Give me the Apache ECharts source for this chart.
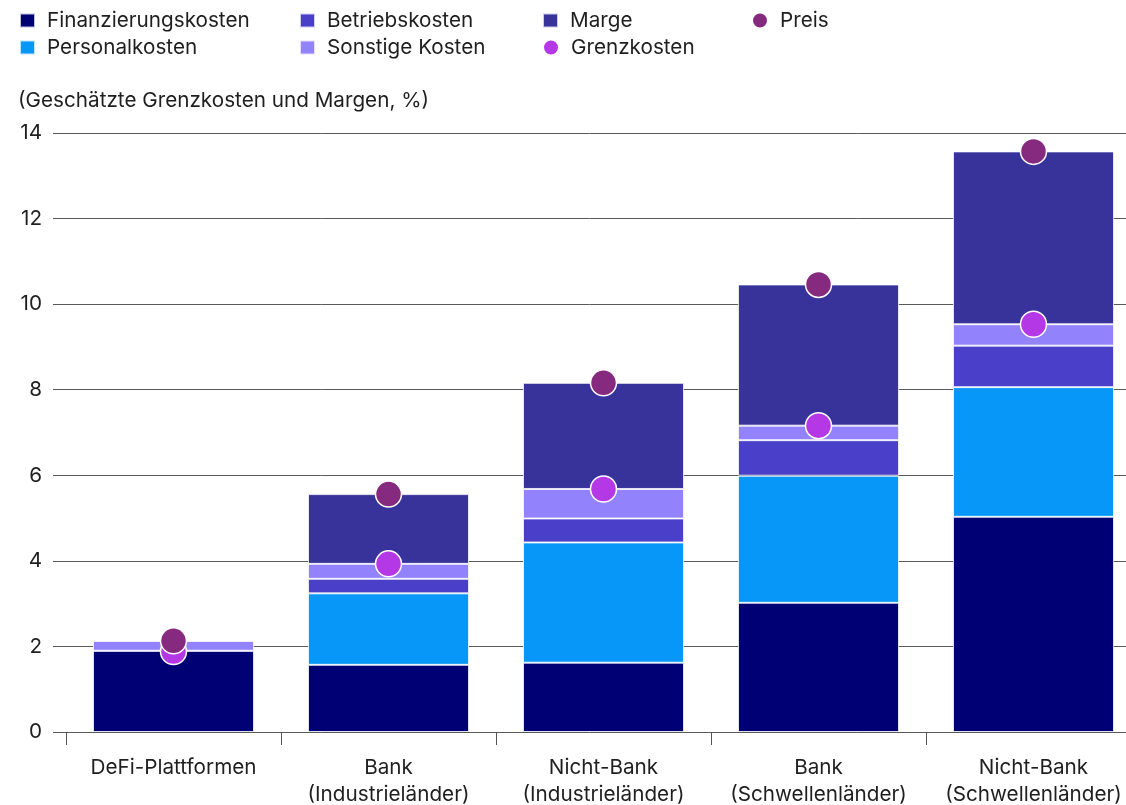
<!DOCTYPE html>
<html>
<head>
<meta charset="utf-8">
<script src="https://cdn.jsdelivr.net/npm/echarts@6/dist/echarts.min.js"></script>
<style>
  html, body { margin: 0; padding: 0; background: #fff; }
  #chart { width: 1126px; height: 805px; }
</style>
</head>
<body>
<div id="chart"></div>
<script>
// Categories (line break for the two-line axis labels)
const categories = [
  'DeFi-Plattformen',
  'Bank\n(Industrieländer)',
  'Nicht-Bank\n(Industrieländer)',
  'Bank\n(Schwellenländer)',
  'Nicht-Bank\n(Schwellenländer)'
];

// Stacked cost components and margin (%)
const finanzierungskosten = [1.90, 1.57, 1.62, 3.02, 5.03];
const personalkosten      = [0.00, 1.67, 2.81, 2.97, 3.03];
const betriebskosten      = [0.00, 0.34, 0.56, 0.83, 0.97];
const sonstigeKosten      = [0.23, 0.35, 0.69, 0.34, 0.50];
const marge               = [0.00, 1.63, 2.48, 3.30, 4.04];

// Point markers (%)
const grenzkosten = [1.88, 3.93, 5.68, 7.16, 9.53];
const preis       = [2.13, 5.56, 8.16, 10.46, 13.57];

// Y axis ticks
const yTicks = [0, 2, 4, 6, 8, 10, 12, 14];

const FONT = 'Inter, "Noto Sans", sans-serif';
const FONT_SIZE = 20.7;
const TEXT = '#1f1f1f';

const colors = {
  fin: '#000075',
  pers: '#0797f8',
  betr: '#4a3fc8',
  sonst: '#9282fc',
  marge: '#38339b',
  grenz: '#b538e7',
  preis: '#862a80'
};

function barSeries(name, data, color) {
  return {
    name, type: 'bar', stack: 'total', data,
    xAxisIndex: 1, yAxisIndex: 1,
    barWidth: 161,
    itemStyle: { color, borderColor: 'rgba(255,255,255,0.75)', borderWidth: 1 },
    emphasis: { disabled: true }
  };
}

function dotSeries(name, data, color, z) {
  return {
    name, type: 'scatter', data,
    xAxisIndex: 1, yAxisIndex: 1,
    symbol: 'circle', symbolSize: 26, z,
    itemStyle: { color, borderColor: '#ffffff', borderWidth: 1.5, opacity: 1 },
    emphasis: { disabled: true }
  };
}

function legendItem(name, icon, left, top) {
  return {
    data: [{ name, icon }],
    left, top, padding: 0,
    itemWidth: icon === 'circle' ? 16 : 15,
    itemHeight: icon === 'circle' ? 16 : 14,
    selectedMode: false,
    textStyle: { fontFamily: FONT, fontSize: FONT_SIZE, color: TEXT, lineHeight: 20, padding: [0, 0, 0, 7] }
  };
}

const chart = echarts.init(document.getElementById('chart'), null, { renderer: 'canvas' });

chart.setOption({
  animation: false,
  title: {
    text: '(Geschätzte Grenzkosten und Margen, %)',
    left: 13, top: 84,
    textStyle: { fontFamily: FONT, fontSize: FONT_SIZE, fontWeight: 'normal', color: TEXT, lineHeight: 24 }
  },
  legend: [
    legendItem('Finanzierungskosten', 'rect', 19, 10),
    legendItem('Personalkosten', 'rect', 19, 37),
    legendItem('Betriebskosten', 'rect', 299, 10),
    legendItem('Sonstige Kosten', 'rect', 299, 37),
    legendItem('Marge', 'rect', 542, 10),
    legendItem('Grenzkosten', 'circle', 542, 37),
    legendItem('Preis', 'circle', 751, 10)
  ],
  grid: [
    // background grid: gridlines and value labels
    { left: 53, right: 0, top: 133, bottom: 73, outerBoundsMode: 'none' },
    // plotting grid for the bars and markers; the last column runs past the right edge
    { left: 66, right: -15, top: 133, bottom: 73, outerBoundsMode: 'none' }
  ],
  xAxis: [
    { gridIndex: 0, type: 'value', show: false, min: 0, max: 1 },
    {
      gridIndex: 1, type: 'category', data: categories,
      axisLine: { show: false },
      axisTick: { show: true, interval: 0, length: 13, lineStyle: { color: '#555', width: 1 } },
      axisLabel: { interval: 0, hideOverlap: false, fontFamily: FONT, fontSize: FONT_SIZE, color: TEXT, lineHeight: 27, margin: 22 }
    }
  ],
  yAxis: [
    {
      gridIndex: 0, type: 'value', min: yTicks[0], max: yTicks[yTicks.length - 1], interval: 2,
      axisLine: { show: false }, axisTick: { show: false },
      axisLabel: { fontFamily: FONT, fontSize: FONT_SIZE, color: TEXT, margin: 11 },
      splitLine: { show: true, lineStyle: { color: '#5a5a5a', width: 1 } }
    },
    {
      gridIndex: 1, type: 'value', min: yTicks[0], max: yTicks[yTicks.length - 1], interval: 2,
      show: false, splitLine: { show: false }
    }
  ],
  series: [
    barSeries('Finanzierungskosten', finanzierungskosten, colors.fin),
    barSeries('Personalkosten', personalkosten, colors.pers),
    barSeries('Betriebskosten', betriebskosten, colors.betr),
    barSeries('Sonstige Kosten', sonstigeKosten, colors.sonst),
    barSeries('Marge', marge, colors.marge),
    dotSeries('Grenzkosten', grenzkosten, colors.grenz, 3),
    dotSeries('Preis', preis, colors.preis, 4)
  ]
});
</script>
</body>
</html>
